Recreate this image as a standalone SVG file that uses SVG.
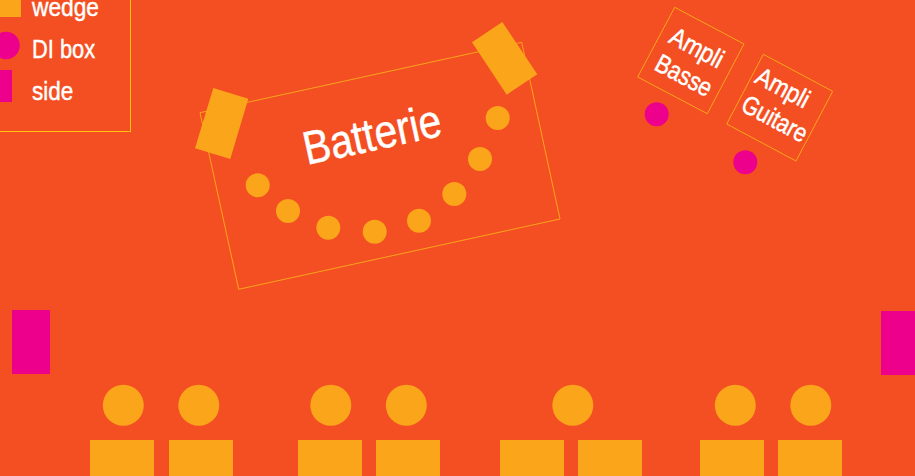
<svg xmlns="http://www.w3.org/2000/svg" width="915" height="476" viewBox="0 0 915 476">
<style>
.o{fill:#faa51a}
.p{fill:#ec008c}
.f{fill:none;stroke:#faa51a;stroke-width:1}
.t{fill:#fff;stroke:#fff;stroke-width:.45;font-family:"Liberation Sans",Arial,sans-serif}
.l{font-size:26px}
</style>
<rect width="915" height="476" fill="#f44f22"/>
<g id="legend">
<rect x="-10" y="-10" width="140.500" height="141.500" fill="none" stroke="#ffc20e" stroke-width="1"/>
<rect class="o" x="0" y="-10" width="21" height="27"/>
<circle class="p" cx="6" cy="45.500" r="13.800"/>
<rect class="p" x="0" y="70" width="12" height="32"/>
<text class="t l" transform="translate(32 16) scale(.875 1)">wedge</text>
<text class="t l" transform="translate(32 58) scale(.84 1)">DI box</text>
<text class="t l" transform="translate(32 100) scale(.865 1)">side</text>
</g>
<g id="batterie">
<polygon class="f" points="200,112.700 521.700,42.300 560,219 238.700,289.300"/>
<polygon class="o" points="213.300,88 248.300,98.700 230.300,159 195,148.300"/>
<polygon class="o" points="502.300,22 537.300,74.300 506.700,94.700 472,42.300"/>
<circle class="o" cx="257.700" cy="185.300" r="12"/>
<circle class="o" cx="288" cy="211" r="12"/>
<circle class="o" cx="328.300" cy="227.700" r="12"/>
<circle class="o" cx="374.700" cy="231.700" r="12"/>
<circle class="o" cx="419" cy="220.700" r="12"/>
<circle class="o" cx="454.300" cy="194" r="12"/>
<circle class="o" cx="480" cy="159" r="12"/>
<circle class="o" cx="497.700" cy="118" r="12"/>
<text class="t" font-size="47" stroke-width=".6" transform="translate(307 165) rotate(-12.300) scale(.865 1)">Batterie</text>
</g>
<g id="ampli-basse">
<polygon class="f" points="674.700,7.300 744,44 707.300,113.700 637.700,77"/>
<text class="t l" transform="translate(667.500 42) rotate(28) scale(.88 1)">Ampli</text>
<text class="t l" transform="translate(653 69) rotate(28) scale(.84 1)">Basse</text>
<circle class="p" cx="656.700" cy="114.300" r="12"/>
</g>
<g id="ampli-guitare">
<polygon class="f" points="763.300,54.300 832.700,91.300 796,161 726.700,124"/>
<text class="t l" transform="translate(753.500 82) rotate(28) scale(.88 1)">Ampli</text>
<text class="t l" transform="translate(739.500 110) rotate(28) scale(.83 1)">Guitare</text>
<circle class="p" cx="745.300" cy="162.300" r="12"/>
</g>
<g id="sides">
<rect class="p" x="12" y="310" width="38" height="64"/>
<rect class="p" x="881" y="311" width="34" height="64"/>
</g>
<g id="musicians" class="o">
<circle cx="123.300" cy="405.300" r="20.500"/><circle cx="198.800" cy="405.300" r="20.500"/>
<circle cx="330.800" cy="405.300" r="20.500"/><circle cx="406.300" cy="405.300" r="20.500"/>
<circle cx="572.800" cy="405.300" r="20.500"/>
<circle cx="735.300" cy="405.300" r="20.500"/><circle cx="810.800" cy="405.300" r="20.500"/>
</g>
<g id="wedges" class="o">
<rect x="90" y="440" width="64" height="36"/><rect x="169" y="440" width="64" height="36"/>
<rect x="298" y="440" width="64" height="36"/><rect x="376" y="440" width="64" height="36"/>
<rect x="500" y="440" width="64" height="36"/><rect x="578" y="440" width="64" height="36"/>
<rect x="700" y="440" width="64" height="36"/><rect x="778" y="440" width="64" height="36"/>
</g>
</svg>
